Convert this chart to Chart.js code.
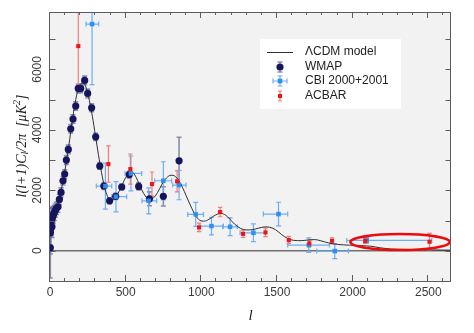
<!DOCTYPE html>
<html>
<head>
<meta charset="utf-8">
<script src="https://cdn.jsdelivr.net/npm/chart.js@4.4.1/dist/chart.umd.min.js"></script>
<style>
  html, body { margin: 0; padding: 0; background: #ffffff; }
  canvas { display: block; }
</style>
</head>
<body>
<canvas id="c" width="474" height="333"></canvas>
<script>
// Best-fit LCDM angular power spectrum, l(l+1)C_l/2pi in uK^2
const modelL = [2, 5, 10, 20, 30, 40, 50, 60, 70, 80, 90, 100, 110, 120, 130, 140, 150, 160, 170, 180, 190,
  200, 215, 230, 245, 260, 280, 300, 320, 340, 360, 380, 400, 420, 440, 460, 480, 500, 520, 535, 550, 570,
  590, 610, 630, 650, 670, 690, 710, 740, 770, 800, 825, 850, 875, 900, 930, 960, 990, 1020, 1050, 1080,
  1110, 1130, 1160, 1190, 1220, 1260, 1300, 1340, 1380, 1420, 1450, 1490, 1530, 1570, 1610, 1660, 1710,
  1750, 1790, 1840, 1900, 1980, 2060, 2120, 2180, 2250, 2350, 2500, 2650];
const modelPower = [700, 780, 850, 950, 1100, 1280, 1480, 1680, 1900, 2150, 2420, 2700, 3000, 3330, 3680,
  4050, 4400, 4720, 5000, 5230, 5400, 5500, 5560, 5500, 5300, 4980, 4450, 3820, 3180, 2600, 2120, 1800,
  1680, 1700, 1820, 2000, 2220, 2420, 2570, 2610, 2580, 2420, 2200, 1980, 1810, 1720, 1710, 1780, 1920,
  2200, 2410, 2500, 2470, 2330, 2100, 1820, 1480, 1180, 1010, 980, 1040, 1140, 1220, 1235, 1180, 1040,
  880, 740, 690, 700, 750, 790, 780, 700, 540, 410, 345, 335, 360, 370, 330, 260, 210, 185, 170, 150, 100,
  60, 45, 30, 20];

// WMAP band powers
const wmapL = [2, 3, 5, 8, 10, 13, 17, 22, 28, 35, 42, 53, 62, 73, 86, 97, 108, 121, 137, 152, 170, 187,
  203, 229, 249, 275, 302, 329, 356, 394, 434, 474, 524, 586, 657, 749, 853];
const wmapPower = [100, 595, 740, 960, 1040, 795, 1100, 1180, 1250, 1330, 1400, 1455, 1700, 1930, 2315,
  2537, 3000, 3354, 4036, 4357, 4787, 5372, 5372, 5637, 5207, 4730, 3770, 2805, 2140, 1654, 1800, 2110,
  2520, 2130, 1720, 1800, 2977];
const wmapErr = [1000, 700, 550, 450, 400, 350, 300, 280, 250, 220, 200, 180, 160, 150, 140, 140, 140,
  140, 140, 140, 140, 140, 140, 140, 140, 130, 120, 110, 110, 100, 100, 100, 110, 120, 230, 320, 780];

// CBI 2000+2001 band powers with band widths
const cbiL = [278, 366, 436, 535, 652, 749, 853, 963, 1067, 1190, 1344, 1510, 1710, 1882, 2093];
const cbiPower = [7500, 2140, 1790, 2560, 1654, 2316, 2173, 1204, 817, 794, 595, 1214, 188, -10, 344];
const cbiErr = [2000, 760, 500, 575, 430, 630, 485, 400, 293, 293, 295, 392, 238, 250, 90];
const cbiLow = [238, 306, 408, 496, 608, 692, 811, 910, 992, 1141, 1256, 1410, 1571, 1763, 1961];
const cbiHigh = [322, 408, 507, 606, 705, 804, 899, 1014, 1146, 1238, 1421, 1571, 1847, 1972, 2523];

// ACBAR band powers
const acbarL = [187, 386, 531, 674, 840, 985, 1124, 1276, 1424, 1578, 1714, 1864, 2083, 2508];
const acbarPower = [6772, 2868, 2702, 2206, 2296, 774, 1280, 560, 608, 354, 245, 331, 321, 298];
const acbarErr = [1300, 600, 500, 400, 350, 140, 155, 120, 140, 120, 110, 100, 80, 276];

// Axis ticks
const xTickLabels = [0, 500, 1000, 1500, 2000, 2500];
const yTickLabels = [0, 2000, 4000, 6000];

// Highlighted high-l region (data units)
const highlightL = [1985, 2642];
const highlightPower = [25, 555];

const pts = (xs, ys) => xs.map((v, i) => ({ x: v, y: ys[i] }));

function vBars(ctx, xs, ys, ls, vals, errs, color, width, cap) {
  ctx.strokeStyle = color;
  ctx.lineWidth = width;
  ls.forEach((l, i) => {
    const px = xs.getPixelForValue(l);
    const top = ys.getPixelForValue(vals[i] + errs[i]);
    const bot = ys.getPixelForValue(vals[i] - errs[i]);
    ctx.beginPath();
    ctx.moveTo(px, top); ctx.lineTo(px, bot);
    ctx.moveTo(px - cap, top); ctx.lineTo(px + cap, top);
    ctx.moveTo(px - cap, bot); ctx.lineTo(px + cap, bot);
    ctx.stroke();
  });
}

function hBars(ctx, xs, ys, lows, highs, vals, color, width, cap) {
  ctx.strokeStyle = color;
  ctx.lineWidth = width;
  lows.forEach((lo, i) => {
    const py = ys.getPixelForValue(vals[i]);
    const a = xs.getPixelForValue(lo);
    const b = xs.getPixelForValue(highs[i]);
    ctx.beginPath();
    ctx.moveTo(a, py); ctx.lineTo(b, py);
    ctx.moveTo(a, py - cap); ctx.lineTo(a, py + cap);
    ctx.moveTo(b, py - cap); ctx.lineTo(b, py + cap);
    ctx.stroke();
  });
}

const decor = {
  id: 'decor',
  beforeDraw(chart) {
    const { ctx, chartArea: a } = chart;
    ctx.save();
    ctx.fillStyle = '#f2f2f2';
    ctx.fillRect(a.left, a.top, a.right - a.left, a.bottom - a.top);
    ctx.restore();
  },
  beforeDatasetsDraw(chart) {
    const { ctx, chartArea: a, scales: { x, y } } = chart;
    ctx.save();
    ctx.beginPath();
    ctx.rect(a.left, a.top, a.right - a.left, a.bottom - a.top);
    ctx.clip();
    // zero line
    const y0 = y.getPixelForValue(0);
    ctx.strokeStyle = '#707070';
    ctx.lineWidth = 1.5;
    ctx.beginPath();
    ctx.moveTo(a.left, y0); ctx.lineTo(a.right, y0);
    ctx.stroke();
    // error bars
    vBars(ctx, x, y, wmapL, wmapPower, wmapErr, 'rgba(105,105,150,0.75)', 1.6, 2.5);
    hBars(ctx, x, y, cbiLow, cbiHigh, cbiPower, '#6caef4', 1.2, 2.5);
    vBars(ctx, x, y, cbiL, cbiPower, cbiErr, '#6caef4', 1.2, 2.5);
    vBars(ctx, x, y, acbarL, acbarPower, acbarErr, '#f27d7d', 1.2, 2.2);
    ctx.restore();
  },
  afterDraw(chart) {
    const { ctx, chartArea: a, scales: { x, y } } = chart;
    ctx.save();

    // highlighted region
    const cx = x.getPixelForValue((highlightL[0] + highlightL[1]) / 2);
    const cy = y.getPixelForValue((highlightPower[0] + highlightPower[1]) / 2);
    const rx = Math.abs(x.getPixelForValue(highlightL[1]) - x.getPixelForValue(highlightL[0])) / 2;
    const ry = Math.abs(y.getPixelForValue(highlightPower[1]) - y.getPixelForValue(highlightPower[0])) / 2;
    ctx.strokeStyle = '#ee0a0a';
    ctx.lineWidth = 2.6;
    ctx.beginPath();
    ctx.ellipse(cx, cy, rx, ry, 0, 0, Math.PI * 2);
    ctx.stroke();

    // frame
    ctx.strokeStyle = '#5c5c5c';
    ctx.lineWidth = 1;
    ctx.strokeRect(a.left - 0.5, a.top + 0.5, a.right - a.left, a.bottom - a.top);

    // inward tick marks on all four sides
    ctx.beginPath();
    for (let v = 0; v <= 2600; v += 100) {
      const px = Math.round(x.getPixelForValue(v)) - 0.5;
      const len = v % 500 === 0 ? 6 : 3;
      ctx.moveTo(px, a.bottom); ctx.lineTo(px, a.bottom - len);
      ctx.moveTo(px, a.top); ctx.lineTo(px, a.top + len);
    }
    for (let v = -1000; v <= 7000; v += 1000) {
      const py = Math.round(y.getPixelForValue(v)) + 0.5;
      ctx.moveTo(a.left, py); ctx.lineTo(a.left + 5.5, py);
      ctx.moveTo(a.right, py); ctx.lineTo(a.right - 5.5, py);
    }
    ctx.stroke();

    // tick labels
    ctx.fillStyle = '#3a3a3a';
    ctx.font = '12px "Liberation Sans", Arial, sans-serif';
    ctx.textAlign = 'center';
    ctx.textBaseline = 'middle';
    xTickLabels.forEach(v => ctx.fillText(String(v), x.getPixelForValue(v), 292.5));
    yTickLabels.forEach(v => {
      ctx.save();
      ctx.translate(38, y.getPixelForValue(v));
      ctx.rotate(-Math.PI / 2);
      ctx.fillText(String(v), 0, 0);
      ctx.restore();
    });

    // axis titles
    ctx.fillStyle = '#222';
    ctx.font = 'italic 15px "Liberation Serif", serif';
    ctx.fillText('l', (a.left + a.right) / 2, 316);

    const parts = [
      { t: 'l(l+1)C', f: 'italic 14px "Liberation Serif", serif', dy: 0 },
      { t: 'l', f: 'italic 10px "Liberation Serif", serif', dy: 3 },
      { t: '/2\u03c0  [\u03bcK', f: 'italic 14px "Liberation Serif", serif', dy: 0 },
      { t: '2', f: 'italic 10px "Liberation Serif", serif', dy: -5 },
      { t: ']', f: 'italic 14px "Liberation Serif", serif', dy: 0 }
    ];
    let total = 0;
    parts.forEach(p => { ctx.font = p.f; p.w = ctx.measureText(p.t).width; total += p.w; });
    ctx.save();
    ctx.translate(22, 146);
    ctx.rotate(-Math.PI / 2);
    ctx.textAlign = 'left';
    let pos = -total / 2;
    parts.forEach(p => {
      ctx.font = p.f;
      ctx.fillText(p.t, pos, p.dy);
      pos += p.w;
    });
    ctx.restore();

    // legend
    ctx.fillStyle = '#ffffff';
    ctx.fillRect(260, 39, 141, 70);
    ctx.font = '12px "Liberation Sans", Arial, sans-serif';
    ctx.textAlign = 'left';
    ctx.textBaseline = 'middle';
    const ds = chart.data.datasets;
    const rows = [
      { ds: ds[3], y: 52 },
      { ds: ds[2], y: 67 },
      { ds: ds[1], y: 81 },
      { ds: ds[0], y: 96 }
    ];
    const sx = 280;
    // model line
    ctx.strokeStyle = '#303030';
    ctx.lineWidth = 1;
    ctx.beginPath(); ctx.moveTo(267, 52.5); ctx.lineTo(293, 52.5); ctx.stroke();
    // WMAP
    ctx.strokeStyle = 'rgba(105,105,150,0.75)'; ctx.lineWidth = 1.4;
    ctx.beginPath();
    ctx.moveTo(sx, 62); ctx.lineTo(sx, 72);
    ctx.moveTo(sx - 2.5, 62); ctx.lineTo(sx + 2.5, 62);
    ctx.moveTo(sx - 2.5, 72); ctx.lineTo(sx + 2.5, 72);
    ctx.stroke();
    ctx.fillStyle = '#15155e';
    ctx.beginPath(); ctx.arc(sx, 67, 3.6, 0, Math.PI * 2); ctx.fill();
    // CBI
    ctx.strokeStyle = '#6caef4'; ctx.lineWidth = 1.2;
    ctx.beginPath();
    ctx.moveTo(273, 81); ctx.lineTo(287, 81);
    ctx.moveTo(273, 78.5); ctx.lineTo(273, 83.5);
    ctx.moveTo(287, 78.5); ctx.lineTo(287, 83.5);
    ctx.moveTo(sx, 76); ctx.lineTo(sx, 86);
    ctx.moveTo(sx - 2.5, 76); ctx.lineTo(sx + 2.5, 76);
    ctx.moveTo(sx - 2.5, 86); ctx.lineTo(sx + 2.5, 86);
    ctx.stroke();
    ctx.fillStyle = '#2e8ef2';
    ctx.fillRect(sx - 2.3, 81 - 2.3, 4.6, 4.6);
    // ACBAR
    ctx.strokeStyle = '#f27d7d';
    ctx.beginPath();
    ctx.moveTo(sx, 91); ctx.lineTo(sx, 101);
    ctx.moveTo(sx - 2.2, 91); ctx.lineTo(sx + 2.2, 91);
    ctx.moveTo(sx - 2.2, 101); ctx.lineTo(sx + 2.2, 101);
    ctx.stroke();
    ctx.fillStyle = '#f01515';
    ctx.fillRect(sx - 2, 96 - 2, 4, 4);
    // labels
    ctx.fillStyle = '#222';
    rows.forEach(r => ctx.fillText(r.ds.label, 305, r.y));

    ctx.restore();
  }
};

new Chart(document.getElementById('c'), {
  type: 'scatter',
  data: {
    datasets: [
      {
        label: 'ACBAR',
        data: pts(acbarL, acbarPower),
        pointStyle: 'rect',
        pointRadius: 2.9,
        backgroundColor: '#f01515',
        borderWidth: 0
      },
      {
        label: 'CBI 2000+2001',
        data: pts(cbiL, cbiPower),
        pointStyle: 'rect',
        pointRadius: 3.2,
        backgroundColor: '#2e8ef2',
        borderWidth: 0
      },
      {
        label: 'WMAP',
        data: pts(wmapL, wmapPower),
        pointStyle: 'circle',
        pointRadius: 3.6,
        backgroundColor: '#15155e',
        borderWidth: 0
      },
      {
        label: '\u039bCDM model',
        data: pts(modelL, modelPower),
        showLine: true,
        borderColor: '#303030',
        borderWidth: 1,
        pointRadius: 0,
        cubicInterpolationMode: 'monotone',
        fill: false
      }
    ]
  },
  options: {
    responsive: false,
    animation: false,
    devicePixelRatio: 1,
    layout: { padding: { left: 0, right: 23, top: 12, bottom: 0 } },
    plugins: { legend: { display: false }, tooltip: { enabled: false } },
    events: [],
    scales: {
      x: {
        type: 'linear', min: 0, max: 2650,
        grid: { display: false }, border: { display: false },
        ticks: { display: false },
        afterFit(s) { s.height = 52; }
      },
      y: {
        type: 'linear', min: -1000, max: 7900,
        grid: { display: false }, border: { display: false },
        ticks: { display: false },
        afterFit(s) { s.width = 50; }
      }
    }
  },
  plugins: [decor]
});
</script>
</body>
</html>
